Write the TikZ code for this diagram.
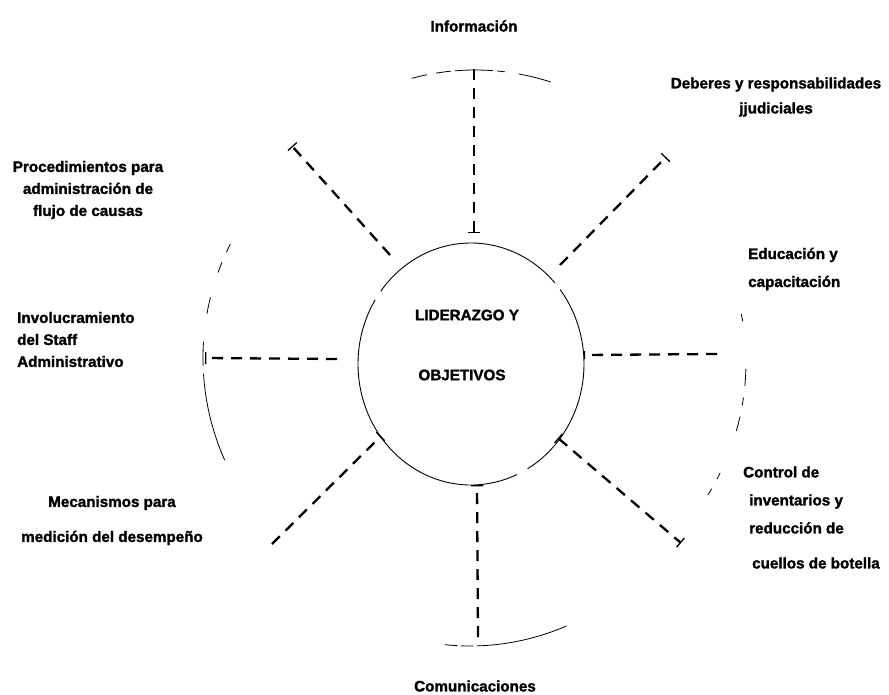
\documentclass[tikz,border=0pt]{standalone}
\usepackage{fontspec}
\setmainfont{Liberation Sans}[BoldFeatures={FakeBold=1.6}]
\usetikzlibrary{arrows.meta,shapes.geometric}
\begin{document}
\begin{tikzpicture}[x=1pt,y=-1pt,
  lbl/.style={font=\bfseries\fontsize{15.2}{22}\selectfont, inner sep=0pt},
  spoke/.style={line width=2.3pt, dash pattern=on 11pt off 8pt},
  ringline/.style={line width=0.8pt},
  tickend/.style={-{Bar[width=12pt,line width=1.3pt]}},
  tickboth/.style={{Bar[width=12pt,line width=1.3pt]}-{Bar[width=12pt,line width=1.3pt]}},
  coreline/.style={line width=0.9pt}]
\useasboundingbox (0,0) rectangle (889,694);

% central element
\node[ellipse, minimum width=226pt, minimum height=242pt, inner sep=0pt] (core) at (471,364) {};
\draw[coreline] (core.center) ++(-143:113 and 121) arc[start angle=-143, end angle=-42, x radius=113, y radius=121];
\draw[coreline] (core.center) ++(-38:113 and 121) arc[start angle=-38, end angle=60, x radius=113, y radius=121];
\draw[coreline] (core.center) ++(66:113 and 121) arc[start angle=66, end angle=212, x radius=113, y radius=121];
\node[lbl] (lid) at (467,315) {LIDERAZGO Y};
\node[lbl] (obj) at (462,375) {OBJETIVOS};

% outer ring, drawn as four loose arcs
\draw[ringline, dash pattern=on 16pt off 9pt on 15pt off 4pt on 38pt off 4pt on 8pt off 14pt on 40pt]
  (475,315) ++(-105:245) arc[start angle=-105, end angle=-72, radius=245];
\draw[ringline, dash pattern=on 9pt off 11pt on 11pt off 26pt on 17pt off 28pt on 24pt off 8pt on 95pt]
  (454,358) ++(207:251) arc[start angle=207, end angle=156, radius=251];
\draw[ringline, dash pattern=on 7pt off 48pt on 17pt off 12pt on 8pt off 11pt on 15pt off 45pt on 7pt off 11pt on 12pt]
  (495,362) ++(-11:251) arc[start angle=-11, end angle=32, radius=251];
\draw[ringline, dash pattern=on 92pt off 4pt on 12pt off 4pt on 14pt]
  (470,404) ++(66.5:242) arc[start angle=66.5, end angle=96, radius=242];

% spoke end points
\coordinate (infoA) at (474,69);   \coordinate (infoB) at (474,233);
\coordinate (neA) at (560,265);    \coordinate (neB) at (666,157);
\coordinate (nwA) at (390,255);    \coordinate (nwB) at (292,146);
\coordinate (wA) at (337,359);     \coordinate (wB) at (205,358);
\coordinate (eA) at (717,354);     \coordinate (eB) at (584,355);
\coordinate (seA) at (558,438);    \coordinate (seB) at (681,543);
\coordinate (swA) at (272,544);    \coordinate (swB) at (381,436);
\coordinate (sA) at (478,637);     \coordinate (sB) at (477,485);

% spokes
\draw[spoke, tickend] (infoA) -- (infoB);
\draw[spoke, tickend] (neA) -- (neB);
\draw[spoke, tickend] (nwA) -- (nwB);
\draw[spoke, tickend] (wA) -- (wB);
\draw[spoke, -{Bar[width=8pt,line width=1.2pt]}] (eA) -- (eB);
\draw[spoke, tickboth] (seA) -- (seB);
\draw[spoke, tickend] (swA) -- (swB);
\draw[spoke, tickend] (sA) -- (sB);

% labels
\node[lbl] (info) at (474,26) {Información};
\node[lbl, align=center] (deberes) at (776,97) {Deberes y responsabilidades\\[3pt]jjudiciales};
\node[lbl, align=center] (proc) at (88,190) {Procedimientos para\\administración de\\flujo de causas};
\node[lbl, align=left, anchor=west] (invol) at (17,339.5) {Involucramiento\\del Staff\\Administrativo};
\node[lbl, align=center] (meca) at (112,520.5) {Mecanismos para\\[13pt]medición del desempeño};
\node[lbl, align=left, anchor=west] (educ) at (748,269) {Educación y\\[6pt]capacitación};
\node[lbl, align=left, anchor=west] (control) at (743,517.5) {Control de\\[6pt]\hspace*{6pt}inventarios y\\[6pt]\hspace*{6pt}reducción de\\[13pt]\hspace*{9pt}cuellos de botella};
\node[lbl] (comu) at (475,686) {Comunicaciones};
\end{tikzpicture}
\end{document}
